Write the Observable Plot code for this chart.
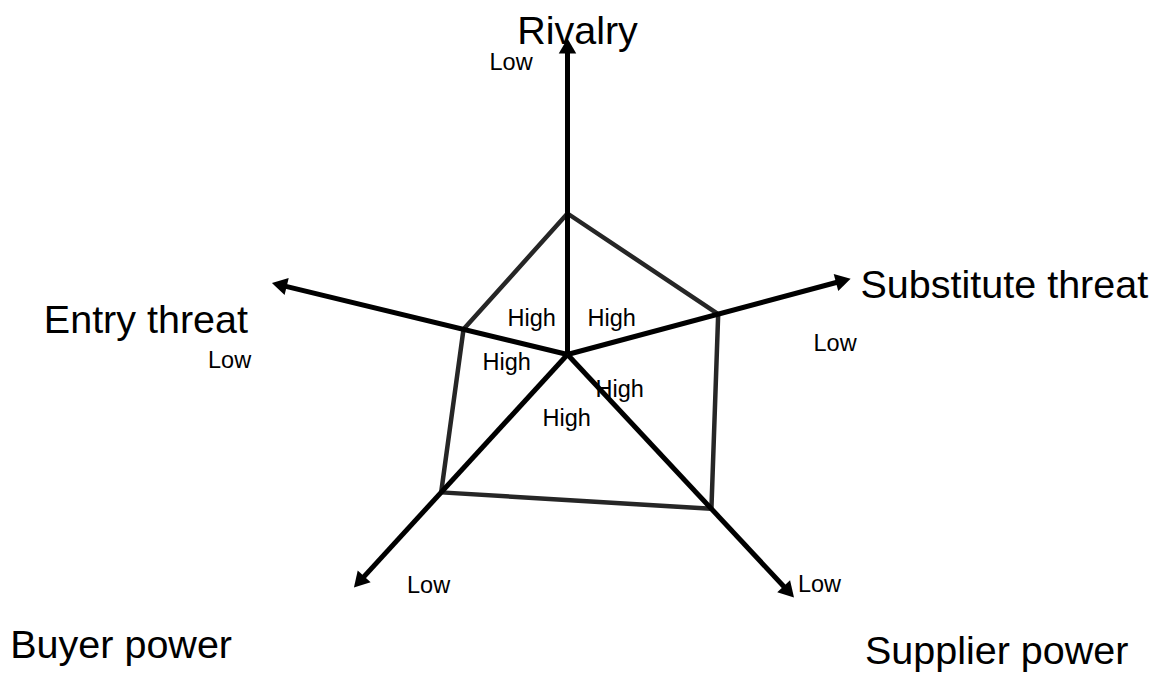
<!DOCTYPE html>
<html><head><meta charset="utf-8">
<script src="https://cdn.jsdelivr.net/npm/d3@7"></script>
<script src="https://cdn.jsdelivr.net/npm/@observablehq/plot@0.6"></script>
<style>html,body{margin:0;padding:0;background:#fff}#chart svg{display:block}</style>
</head><body><div id="chart"></div>
<script>
// ---- data ----
const axisNames = ["Rivalry", "Substitute threat", "Supplier power", "Buyer power", "Entry threat"];
const axisAngles = [90, 15, -47, -132.5, 166.4];      // direction of each force axis (degrees)
const axisLengths = [316, 293, 332, 316, 304];         // axis extent ("Low" end)
const scores = [141, 156, 211, 187, 107];              // profile value along each axis (0 = "High")
const tickLabels = ["High", "Low"];

// ---- layout ----
const W = 1159, H = 673, cx = 567, cy = 354;
const font = "'Liberation Sans', Arial, Helvetica, sans-serif";
const titleLayout = [[10, 5, "middle"], [10, 19, "start"], [71, 67, "start"], [-122, 71, "end"], [-24, 50, "end"]];
const lowLayout = [[-78, 31], [-37, 72], [4, -5], [53, 6], [-64, 85]];
const highLayout = [[-60, -29], [20, -29], [28, 42], [-25, 71], [-85, 15]];
const headH = 15;

const rad = d => d * Math.PI / 180;
const axes = axisNames.map((name, i) => {
  const a = rad(axisAngles[i]);
  const L = axisLengths[i];
  return {
    name, angle: axisAngles[i],
    tx: L * Math.cos(a), ty: L * Math.sin(a),
    hx: (L - headH * 2 / 3) * Math.cos(a), hy: (L - headH * 2 / 3) * Math.sin(a),
    lx: (L - headH * 0.6) * Math.cos(a), ly: (L - headH * 0.6) * Math.sin(a),
    px: scores[i] * Math.cos(a), py: scores[i] * Math.sin(a)
  };
});

const titles = axes.map((d, i) => ({text: d.name, x: d.tx + titleLayout[i][0], y: d.ty - titleLayout[i][1], anchor: titleLayout[i][2]}));
const lows = axes.map((d, i) => ({text: tickLabels[1], x: d.tx + lowLayout[i][0], y: d.ty - lowLayout[i][1]}));
const highs = axes.map((d, i) => ({text: tickLabels[0], x: highLayout[i][0], y: -highLayout[i][1]}));

const plot = Plot.plot({
  width: W, height: H,
  margin: 0,
  style: {fontFamily: font, background: "#fff"},
  x: {domain: [-cx, W - cx], range: [0, W], axis: null},
  y: {domain: [-(H - cy), cy], range: [H, 0], axis: null},
  marks: [
    Plot.line(axes, {x: "px", y: "py", curve: "linear-closed", stroke: "#262626", strokeWidth: 4.5, strokeLinejoin: "miter"}),
    Plot.link(axes, {x1: () => 0, y1: () => 0, x2: "lx", y2: "ly", stroke: "#000", strokeWidth: 5, strokeLinecap: "butt"}),
    Plot.dot(axes, {x: "hx", y: "hy", symbol: "triangle", r: 6.5, fill: "#000", stroke: "none", rotate: d => 90 - d.angle}),
    Plot.text(titles.filter(d => d.anchor === "middle"), {x: "x", y: "y", text: "text", textAnchor: "middle", lineAnchor: "bottom", fontSize: 39.5, fill: "#000"}),
    Plot.text(titles.filter(d => d.anchor === "start"), {x: "x", y: "y", text: "text", textAnchor: "start", lineAnchor: "bottom", fontSize: 39.5, fill: "#000"}),
    Plot.text(titles.filter(d => d.anchor === "end"), {x: "x", y: "y", text: "text", textAnchor: "end", lineAnchor: "bottom", fontSize: 39.5, fill: "#000"}),
    Plot.text(lows, {x: "x", y: "y", text: "text", textAnchor: "start", lineAnchor: "bottom", fontSize: 23.5, fill: "#000"}),
    Plot.text(highs, {x: "x", y: "y", text: "text", textAnchor: "start", lineAnchor: "bottom", fontSize: 23.5, fill: "#000"})
  ]
});
document.getElementById("chart").appendChild(plot);
</script>
</body></html>
